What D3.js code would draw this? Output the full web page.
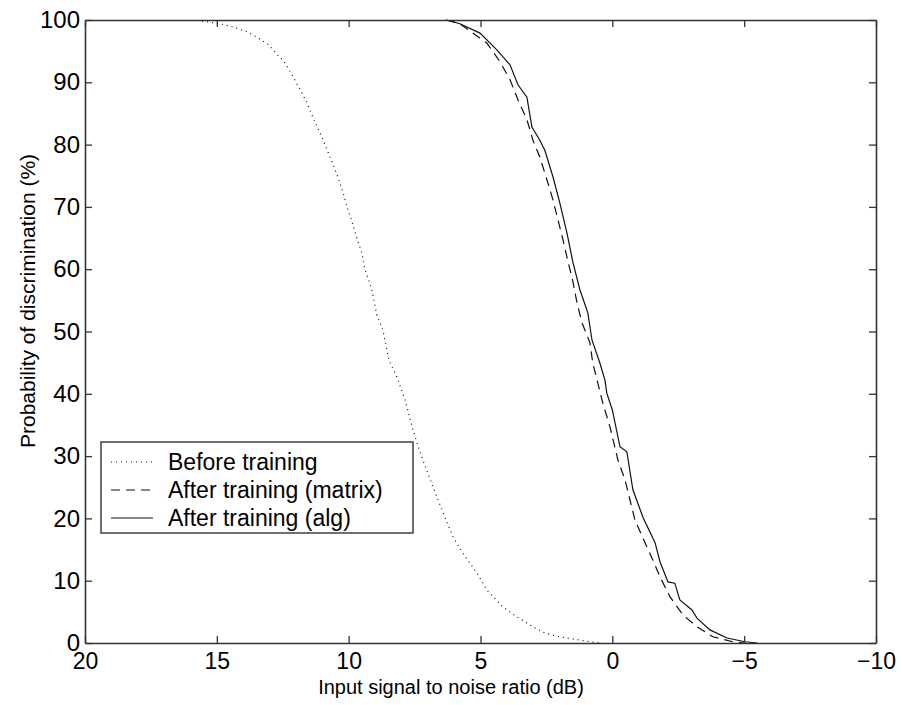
<!DOCTYPE html>
<html>
<head>
<meta charset="utf-8">
<script src="https://cdn.jsdelivr.net/npm/d3@7"></script>
<style>
  html, body { margin: 0; padding: 0; background: #fff; }
  svg { display: block; font-family: "Liberation Sans", Arial, Helvetica, sans-serif; }
</style>
</head>
<body>
<svg id="chart" width="901" height="705"></svg>
<script>
// Discrimination probability versus input SNR (dB), three conditions.
const beforeX = [15.56, 15.0, 14.39, 13.86, 13.55, 13.06, 12.87, 12.45, 12.30, 12.15, 11.85, 11.58, 11.35, 11.09, 10.86, 10.63, 10.41, 10.22, 10.06, 9.87, 9.69, 9.50, 9.38, 9.12, 8.93, 8.70, 8.47, 8.17, 7.86, 7.56, 7.30, 7.00, 6.65, 6.35, 6.04, 5.67, 5.13, 4.76, 4.15, 3.62, 3.01, 2.56, 1.99, 0.85, 0.40];
const beforeY = [99.8, 99.5, 98.9, 98.1, 97.4, 96.1, 95.2, 93.3, 92.3, 91.2, 88.9, 86.7, 84.3, 81.9, 79.6, 77.2, 74.8, 72.4, 70.0, 67.6, 65.0, 62.6, 59.9, 56.7, 52.6, 50.2, 45.4, 42.7, 39.0, 34.2, 30.7, 27.3, 23.4, 20.2, 17.0, 14.4, 11.2, 8.5, 5.8, 4.2, 2.6, 1.6, 1.0, 0.2, 0.0];

const matrixX = [6.3, 5.78, 4.76, 4.26, 3.88, 3.58, 3.24, 3.01, 2.75, 2.44, 2.25, 2.06, 1.87, 1.68, 1.49, 1.34, 1.15, 0.85, 0.74, 0.55, 0.36, 0.09, -0.21, -0.48, -0.86, -1.24, -1.54, -1.81, -2.19, -2.68, -3.21, -3.81, -4.57, -5.0];
const matrixY = [100, 99.4, 96.3, 93.3, 90.4, 87.2, 84.0, 80.7, 78.0, 73.8, 71.1, 67.9, 64.7, 61.2, 57.9, 54.6, 51.4, 48.2, 44.9, 41.7, 38.5, 34.7, 29.4, 26.2, 19.7, 16.1, 13.3, 10.6, 7.4, 4.5, 2.6, 1.0, 0.2, 0.0];

const algX = [6.3, 5.78, 5.02, 4.38, 3.88, 3.58, 3.24, 3.05, 2.75, 2.56, 2.25, 1.99, 1.72, 1.49, 1.23, 0.93, 0.77, 0.47, 0.28, 0.21, 0.0, -0.29, -0.55, -0.78, -1.16, -1.62, -1.81, -2.11, -2.37, -2.56, -3.02, -3.21, -3.70, -4.35, -5.03, -5.5];
const algY = [100, 99.4, 97.9, 95.2, 92.8, 89.6, 87.6, 82.8, 80.7, 79.1, 74.8, 70.6, 65.8, 61.0, 56.7, 53.0, 48.6, 44.9, 42.2, 40.1, 37.4, 31.5, 30.7, 24.6, 20.2, 16.1, 13.0, 9.8, 9.6, 6.9, 5.3, 4.0, 2.1, 0.8, 0.2, 0.0];

const xTicks = [20, 15, 10, 5, 0, -5, -10];
const yTicks = [0, 10, 20, 30, 40, 50, 60, 70, 80, 90, 100];
const seriesNames = ["Before training", "After training (matrix)", "After training (alg)"];
const xLabel = "Input signal to noise ratio (dB)";
const yLabel = "Probability of discrimination (%)";

const series = [
  { name: seriesNames[0], x: beforeX, y: beforeY, dash: "1,4" },
  { name: seriesNames[1], x: matrixX, y: matrixY, dash: "9,6" },
  { name: seriesNames[2], x: algX, y: algY, dash: null }
];

const plot = { left: 85, right: 876, top: 20, bottom: 643 };
const svg = d3.select("#chart");

const x = d3.scaleLinear().domain([20, -10]).range([plot.left, plot.right]);
const y = d3.scaleLinear().domain([0, 100]).range([plot.bottom, plot.top]);

const line = d3.line().x(d => x(d[0])).y(d => y(d[1]));

// curves
const curves = svg.append("g");
series.forEach(s => {
  const pts = s.x.map((v, i) => [v, s.y[i]]);
  curves.append("path")
    .attr("d", line(pts))
    .attr("fill", "none")
    .attr("stroke", "#111")
    .attr("stroke-width", 1.2)
    .attr("stroke-dasharray", s.dash);
});

// axes with inward ticks on all four sides
function styleAxis(size) {
  return g => {
    g.selectAll("path.domain").attr("stroke", "#333").attr("stroke-width", 1.6);
    g.selectAll(".tick line").attr("stroke", "#333").attr("stroke-width", 1.3);
    g.selectAll("text").attr("fill", "#000").style("font-size", size + "px")
      .style("font-family", '"Liberation Sans", Arial, Helvetica, sans-serif');
  };
}

svg.append("g").attr("transform", `translate(0,${plot.bottom})`)
  .call(d3.axisBottom(x).tickValues(xTicks).tickSize(-7).tickPadding(10).tickSizeOuter(0))
  .call(styleAxis(23));
svg.append("g").attr("transform", `translate(0,${plot.top})`)
  .call(d3.axisTop(x).tickValues(xTicks).tickSize(-7).tickFormat("").tickSizeOuter(0))
  .call(styleAxis(23));
svg.append("g").attr("transform", `translate(${plot.left},0)`)
  .call(d3.axisLeft(y).tickValues(yTicks).tickSize(-7).tickPadding(5).tickSizeOuter(0))
  .call(styleAxis(24));
svg.append("g").attr("transform", `translate(${plot.right},0)`)
  .call(d3.axisRight(y).tickValues(yTicks).tickSize(-7).tickFormat("").tickSizeOuter(0))
  .call(styleAxis(24));

// axis titles
svg.append("text")
  .attr("x", 451)
  .attr("y", 694)
  .attr("text-anchor", "middle")
  .style("font-size", "20px")
  .text(xLabel);

svg.append("text")
  .attr("transform", "translate(35,301) rotate(-90)")
  .attr("text-anchor", "middle")
  .style("font-size", "21px")
  .text(yLabel);

// legend
const lg = svg.append("g");
lg.append("rect")
  .attr("x", 101).attr("y", 442).attr("width", 312).attr("height", 91)
  .attr("fill", "#fff").attr("stroke", "#333").attr("stroke-width", 1.4);
series.forEach((s, i) => {
  const cy = 462 + i * 28;
  lg.append("line")
    .attr("x1", 111).attr("x2", 153).attr("y1", cy).attr("y2", cy)
    .attr("stroke", "#111").attr("stroke-width", 1.2)
    .attr("stroke-dasharray", s.dash);
  lg.append("text")
    .attr("x", 168).attr("y", cy).attr("dy", "0.35em")
    .style("font-size", "23px")
    .text(s.name);
});
</script>
</body>
</html>
